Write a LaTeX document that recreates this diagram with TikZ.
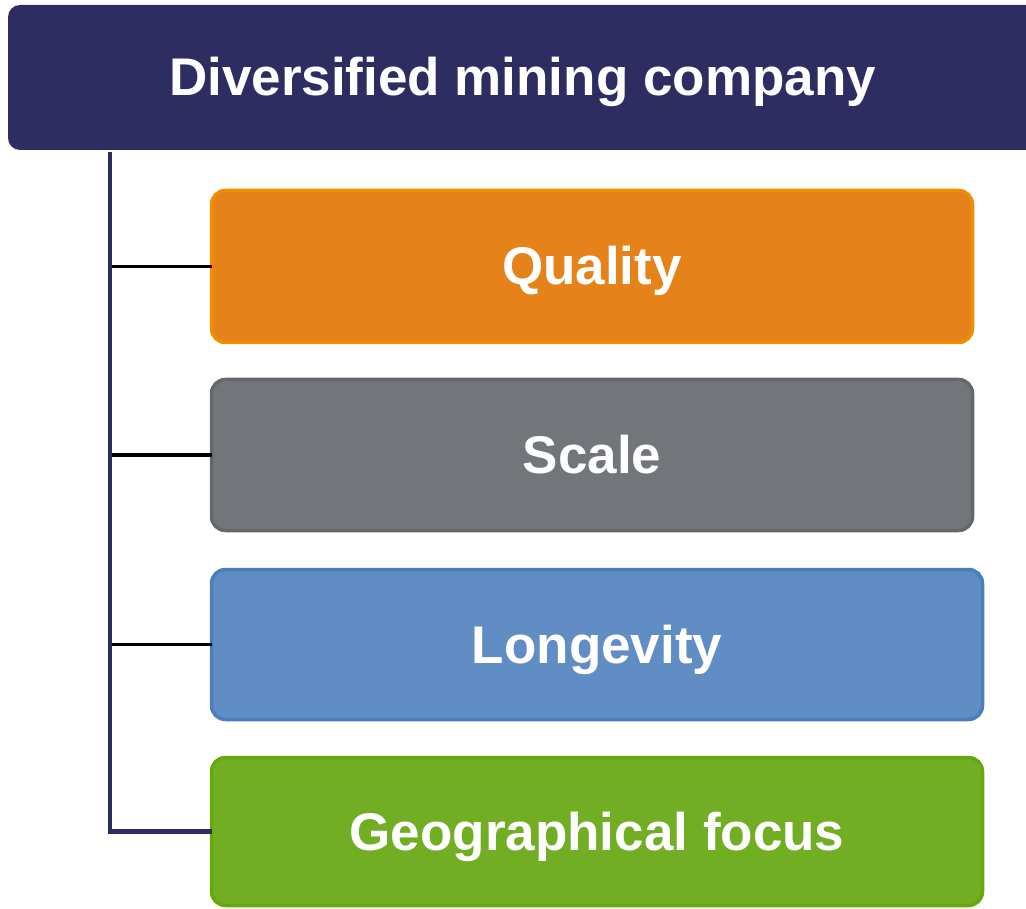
\documentclass[tikz,border=0pt]{standalone}
\usepackage{fontspec}
\setmainfont{Liberation Sans}
\definecolor{navy}{HTML}{2E2D62}
\definecolor{qfill}{HTML}{E5821A}
\definecolor{qline}{HTML}{EE8E00}
\definecolor{sfill}{HTML}{72757A}
\definecolor{sline}{HTML}{65676B}
\definecolor{lfill}{HTML}{5F8DC4}
\definecolor{lline}{HTML}{4A7EBC}
\definecolor{gfill}{HTML}{72AE24}
\definecolor{gline}{HTML}{66A80C}
\tikzset{
  txt/.style={text=white, font=\fontsize{53}{60}\selectfont\bfseries, text height=48pt, text depth=11pt},
  box/.style={txt, rounded corners=14pt, line width=3.5pt, inner sep=0pt, outer sep=0pt},
  header/.style={rounded corners=12pt, fill=navy, inner sep=0pt, outer sep=0pt},
  spine/.style={draw=navy, line width=4.5pt},
  branch/.style={draw=black, line width=3.5pt},
}
\begin{document}
\begin{tikzpicture}[x=1pt,y=-1pt]
\useasboundingbox (0,0) rectangle (1026,909);
\clip (0,0) rectangle (1026,909);
\node[header, minimum width=1032pt, minimum height=145pt] (head) at (524,77.5) {};
\node[txt, inner sep=0pt] (headtext) at (522.5,77.5) {Diversified mining company};
\node[box, fill=qfill, draw=qline, minimum width=761pt, minimum height=152pt] (q) at (592,266.5) {Quality};
\node[box, fill=sfill, draw=sline, minimum width=761pt, minimum height=151pt] (s) at (592,455) {Scale};
\node[box, fill=lfill, draw=lline, minimum width=771pt, minimum height=150pt] (l) at (597,644.5) {Longevity};
\node[box, fill=gfill, draw=gline, minimum width=771pt, minimum height=148pt] (g) at (597,831.5) {Geographical focus};
\coordinate (top) at (110,152);
\draw[branch] (q.west) -- (q.west -| top);
\draw[branch] (s.west) -- (s.west -| top);
\draw[branch] (l.west) -- (l.west -| top);
\draw[spine, line join=miter] (top) |- (g.west);
\end{tikzpicture}
\end{document}
